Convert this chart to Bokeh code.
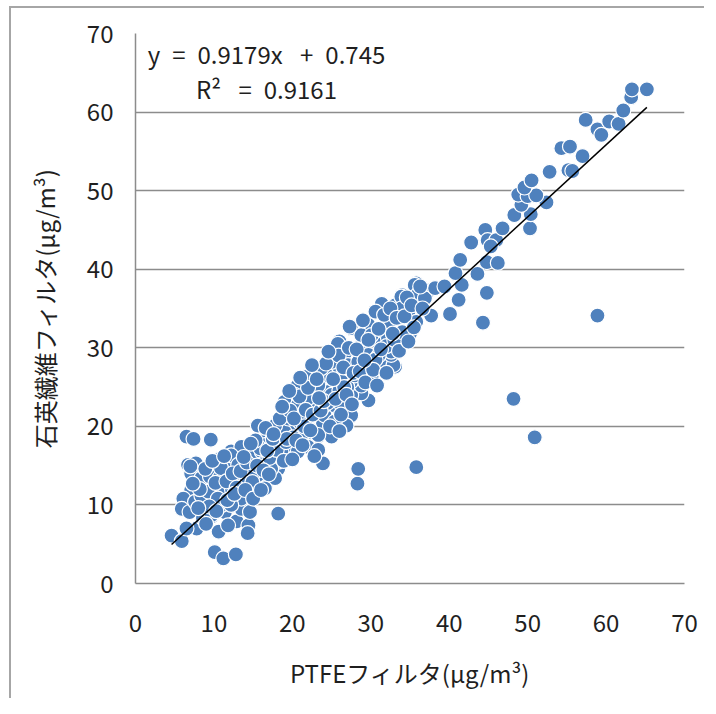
from bokeh.plotting import figure
from bokeh.models import Range1d, FixedTicker, ColumnDataSource
from bokeh.core.properties import value
from bokeh.embed import file_html
from bokeh.resources import INLINE

# ---- data ----
ptfe = [
    4.6, 5.9, 6.5, 7.4, 9.6, 6.7, 7.7, 7.1, 7.0, 7.1, 6.1, 5.9, 6.9, 7.8, 6.5, 8.6,
    10.1, 11.2, 12.8, 10.6, 12.9, 14.4, 14.3, 18.2, 12.0, 10.5, 10.1, 8.8, 9.7, 11.4,
    12.7, 13.5, 11.8, 15.2, 13.9, 16.1, 14.4, 16.9, 17.8, 18.2, 16.5, 18.6, 17.8, 11.0,
    7.6, 9.7, 8.4, 10.8, 12.2, 11.0, 8.4, 13.5, 14.6, 11.8, 13.5, 15.6, 9.5, 10.7, 9.3,
    23.9, 19.0, 20.7, 22.4, 23.3, 24.1, 21.2, 16.9, 18.2, 19.5, 20.7, 22.4, 23.7, 21.6,
    23.3, 19.9, 18.2, 17.3, 15.6, 14.4, 16.5, 15.2, 13.5, 12.2, 9.7, 12.2, 13.1, 11.4,
    10.5, 18.2, 16.5, 14.8, 17.3,
    31.4, 33.1, 27.5, 29.7, 32.2, 26.0, 26.7, 28.8, 30.9, 32.4, 33.1, 29.7, 28.8, 27.5,
    25.8, 24.4, 23.7, 21.8, 20.7, 22.4, 20.3, 19.0, 20.7, 22.9, 25.0, 26.3, 23.9, 25.0,
    23.3, 21.6, 20.3, 19.0, 17.3, 19.9, 22.0, 19.5, 21.2, 27.5, 26.9, 31.4, 30.1, 28.8,
    27.5, 25.6, 24.6, 27.1, 28.4, 29.7, 28.8, 30.1, 31.8, 25.0, 26.3, 23.3, 22.2, 24.1,
    25.4, 21.6, 17.8, 16.1, 18.6, 20.7, 23.3, 27.3, 34.0, 35.8, 37.5, 32.9, 32.6, 25.8,
    33.9, 35.6, 36.0, 32.4, 34.8, 35.8, 35.0, 32.2, 32.6, 33.9, 36.9, 38.2, 37.7, 39.4,
    41.6, 41.2, 40.1, 40.8, 41.4, 42.8, 43.6, 44.8, 44.3, 44.6, 44.9, 46.0, 45.3, 44.8,
    46.2, 46.8, 48.3, 50.3, 50.4, 49.2, 52.4, 48.8, 50.0, 51.1, 49.6, 50.5, 52.8, 55.2,
    55.7, 54.3, 55.4, 57.0, 57.4, 58.9, 59.4, 60.4, 61.6, 62.2, 63.2, 63.3, 65.2, 58.9,
    28.3, 28.4, 35.8, 48.2, 50.9,
    21.0, 22.0, 23.0, 24.0, 25.0, 26.0, 27.0, 28.0, 29.0, 30.0, 31.0, 32.0, 33.0, 34.0,
    12.3, 13.2, 14.1, 15.0, 16.2, 17.1, 18.0, 19.2, 20.1, 21.5, 24.5, 26.6, 29.4, 30.6,
    8.2, 8.9, 9.4, 10.2, 10.9, 11.6, 12.4, 12.9, 9.0, 10.3, 11.7, 12.6, 8.0, 7.3, 9.8, 11.3,
    13.4, 14.2, 14.9, 15.5, 15.9, 16.3, 16.8, 14.0, 15.0, 13.8, 15.3, 16.0, 17.0, 17.5,
    16.6, 14.7,
    18.4, 18.9, 19.3, 19.7, 20.2, 20.5, 20.9, 21.3, 21.7, 22.0, 22.3, 22.6, 18.7, 19.6,
    21.0, 22.8, 20.0, 17.6,
    23.1, 23.6, 24.0, 24.3, 24.8, 25.2, 25.5, 25.9, 26.2, 26.5, 26.9, 27.2, 27.6, 24.6,
    23.4, 26.0, 22.5, 27.8,
    28.2, 28.6, 29.0, 29.3, 29.7, 30.3, 30.6, 31.0, 31.3, 31.7, 32.0, 32.5, 32.8, 33.3,
    33.6, 34.3, 34.6, 34.8, 35.2, 35.5, 36.3, 36.6, 29.2, 30.8,
]
quartz = [
    6.1, 5.4, 18.7, 18.4, 18.3, 15.1, 15.3, 14.0, 14.9, 11.9, 10.8, 9.5, 9.1, 7.0, 7.0, 8.3,
    4.0, 3.2, 3.7, 6.6, 7.9, 7.4, 6.4, 8.9, 15.5, 13.8, 11.2, 10.0, 8.5, 9.1,
    10.0, 12.5, 11.9, 11.5, 14.6, 15.9, 16.8, 18.5, 17.2, 14.6, 13.4, 19.3, 13.4, 10.0,
    10.4, 12.5, 13.4, 15.9, 16.8, 11.2, 11.2, 9.5, 9.1, 7.4, 17.4, 20.1, 13.6, 13.4, 11.7,
    15.3, 22.9, 22.5, 23.5, 24.8, 24.4, 25.2, 18.9, 19.3, 19.7, 19.7, 20.4, 20.1, 18.5,
    18.7, 16.3, 15.5, 14.6, 13.8, 13.4, 12.1, 11.7, 10.8, 10.0, 8.7, 16.3, 15.1, 12.1,
    10.8, 17.6, 17.6, 16.3, 16.3,
    35.6, 35.4, 32.5, 32.9, 33.3, 30.8, 29.3, 30.3, 30.8, 28.9, 27.6, 23.3, 24.2, 24.0,
    27.1, 26.5, 27.4, 26.3, 25.2, 24.6, 24.0, 23.1, 22.7, 22.3, 22.7, 22.7, 20.4, 18.7,
    18.9, 19.3, 19.9, 19.3, 17.2, 17.6, 17.4, 21.0, 21.4, 21.4, 20.1, 27.8, 26.3, 25.2,
    25.7, 25.2, 24.4, 27.8, 28.2, 29.1, 31.6, 31.6, 32.0, 28.2, 25.7, 25.2, 23.5, 21.4,
    20.6, 20.6, 20.1, 16.8, 16.8, 16.8, 17.0, 32.7, 36.7, 38.2, 37.3, 27.8, 29.1, 30.5,
    36.5, 38.0, 36.8, 33.3, 34.1, 33.3, 31.8, 31.2, 29.5, 35.0, 36.3, 37.6, 34.1, 37.8,
    38.0, 36.1, 34.3, 39.5, 41.2, 43.4, 39.4, 37.0, 33.2, 45.0, 43.7, 43.7, 42.9, 40.9,
    40.8, 45.2, 46.9, 45.2, 47.0, 48.2, 48.5, 49.5, 49.3, 49.4, 50.4, 51.3, 52.4, 52.6,
    52.5, 55.4, 55.6, 54.4, 59.0, 57.8, 57.1, 58.8, 58.5, 60.2, 61.9, 62.9, 62.9, 34.1,
    12.7, 14.6, 14.8, 23.5, 18.6,
    20.5, 21.2, 22.0, 22.6, 24.0, 24.6, 25.0, 26.5, 27.0, 28.0, 29.0, 30.2, 31.0, 32.0,
    12.0, 13.0, 13.6, 14.0, 15.2, 16.0, 17.0, 18.0, 18.6, 20.0, 23.0, 25.0, 27.5, 28.5,
    12.0, 14.6, 9.8, 12.8, 14.7, 13.0, 14.0, 12.2, 7.6, 9.2, 10.6, 11.4, 9.6, 12.7, 15.6, 16.2,
    14.3, 15.4, 12.9, 15.0, 17.2, 14.4, 16.9, 11.9, 10.8, 16.1, 18.2, 11.9, 13.9, 18.4,
    19.8, 17.8,
    21.0, 15.6, 18.4, 22.0, 21.0, 18.2, 23.8, 17.6, 22.1, 24.9, 19.5, 21.5, 22.5, 24.5,
    26.2, 16.2, 15.8, 19.0,
    26.0, 22.0, 23.2, 28.0, 20.0, 26.0, 23.5, 29.0, 21.5, 27.5, 24.0, 30.0, 22.8, 29.5,
    23.6, 19.4, 27.8, 26.8,
    29.8, 27.0, 33.5, 25.6, 31.0, 27.2, 34.6, 32.4, 29.8, 34.2, 26.8, 35.0, 31.8, 33.8,
    29.6, 34.0, 36.4, 30.8, 35.4, 32.6, 37.8, 35.0, 28.4, 25.2,
]
slope = 0.9179
intercept = 0.745
r2 = 0.9161
x_ticks = [0, 10, 20, 30, 40, 50, 60, 70]
y_ticks = [0, 10, 20, 30, 40, 50, 60, 70]

FONT = "Noto Sans CJK JP"
GRID = "#8c8c8c"
TXT = "#1f1f1f"

p = figure(
    frame_width=549, frame_height=550,
    min_border_left=124, min_border_right=20, min_border_top=25, min_border_bottom=115,
    x_range=Range1d(0, 70), y_range=Range1d(0, 70),
    output_backend="svg", toolbar_location=None,
)
p.styles = {"border-left": "2px solid #a6a6a6", "border-top": "2px solid #a6a6a6",
            "margin-left": "9px", "margin-top": "6px"}
p.outline_line_color = None
p.background_fill_color = "white"
p.border_fill_color = "white"

p.xgrid.grid_line_color = None
p.ygrid.grid_line_color = GRID
p.ygrid.grid_line_width = 1.5
p.ygrid.ticker = FixedTicker(ticks=y_ticks)

for ax, ticks in ((p.xaxis[0], x_ticks), (p.yaxis[0], y_ticks)):
    ax.ticker = FixedTicker(ticks=ticks)
    ax.axis_line_color = GRID
    ax.axis_line_width = 1.5
    ax.major_tick_line_color = None
    ax.minor_tick_line_color = None
    ax.major_label_text_font = FONT
    ax.major_label_text_font_size = "24px"
    ax.major_label_text_color = TXT
    ax.axis_label_text_font = FONT
    ax.axis_label_text_font_size = "24px"
    ax.axis_label_text_font_style = "normal"
    ax.axis_label_text_color = TXT

p.xaxis.axis_label = "PTFEフィルタ(μg/m³)"
p.yaxis.axis_label = "石英繊維フィルタ(μg/m³)"
p.xaxis.major_label_standoff = 24
p.yaxis.major_label_standoff = 16
p.xaxis.axis_label_standoff = 20
p.yaxis.axis_label_standoff = 22

src = ColumnDataSource(dict(x=ptfe, y=quartz))
p.scatter("x", "y", source=src, size=15, fill_color="#4F81BD",
          line_color="white", line_width=1.2)

xmin, xmax = min(ptfe), max(ptfe)
p.line([xmin, xmax], [slope * xmin + intercept, slope * xmax + intercept],
       line_color="black", line_width=1.5)

EN = "\u2002"
NB = "\u00a0"
eq1 = f"y{EN}={EN}{slope}x{EN}{NB}+{EN}{intercept}"
eq2 = f"R²{EN}{NB}={EN}{r2}"
p.text(x=[16.7, 16.7], y=[67.5, 63.0], text=[eq1, eq2],
       text_align="center", text_baseline="middle",
       text_font=value(FONT), text_font_size="24px", text_color=TXT)

open("out.html", "w").write(file_html(p, INLINE))
